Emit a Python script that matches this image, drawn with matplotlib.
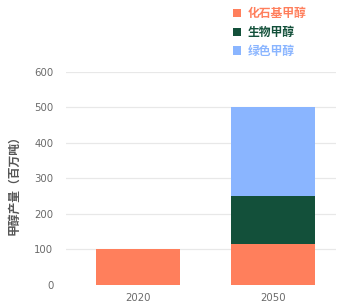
import matplotlib
matplotlib.use("Agg")
import matplotlib.pyplot as plt
import numpy as np

plt.rcParams['font.family'] = ['Noto Sans CJK SC', 'DejaVu Sans']

categories = ['2020', '2050']
series_names = ['化石基甲醇', '生物甲醇', '绿色甲醇']
fossil = [100, 115]
bio = [0, 135]
green = [0, 250]
colors = ['#FF7F5C', '#13503A', '#8AB5FF']
yticks = [0, 100, 200, 300, 400, 500, 600]

fig = plt.figure(figsize=(3.42, 3.08), dpi=100)
ax = fig.add_axes([66/342, 1-284.8/308, 270/342, (284.8-72)/308])

x = np.arange(len(categories))
w = 0.62
b1 = ax.bar(x, fossil, w, color=colors[0], label=series_names[0])
b2 = ax.bar(x, bio, w, bottom=fossil, color=colors[1], label=series_names[1])
bottom2 = np.array(fossil) + np.array(bio)
b3 = ax.bar(x, green, w, bottom=bottom2, color=colors[2], label=series_names[2])

ax.set_xlim(-0.528, 1.465)
ax.set_ylim(0, 600)
ax.set_yticks(yticks)
ax.set_xticks(x)
ax.set_xticklabels(categories)
for s in ax.spines.values():
    s.set_visible(False)
ax.yaxis.grid(True, color='#E8E8E8', linewidth=0.9)
ax.set_axisbelow(True)
ax.tick_params(axis='y', length=0, pad=9, labelsize=7.3, labelcolor='#6a6a6a')
ax.tick_params(axis='x', length=0, pad=6, labelsize=7.3, labelcolor='#6a6a6a')
for lab in ax.get_yticklabels() + ax.get_xticklabels():
    lab.set_family(['DejaVu Sans'])
ax.get_ygridlines()[0].set_visible(False)

fig.text(14/342, 1-182/308, '甲醇产量（百万吨）', rotation=90, ha='center', va='center',
         fontsize=8.5, fontweight='bold', color='#555555')

leg = fig.legend(handles=[b1, b2, b3], loc='upper left', bbox_to_anchor=(222/342, 1.012),
                 frameon=False, fontsize=8.5, handlelength=0.7, handleheight=0.7,
                 handletextpad=0.6, labelspacing=0.5)
for t, c in zip(leg.get_texts(), colors):
    t.set_color(c)
    t.set_fontweight('bold')

fig.savefig('out.png', dpi=100)
